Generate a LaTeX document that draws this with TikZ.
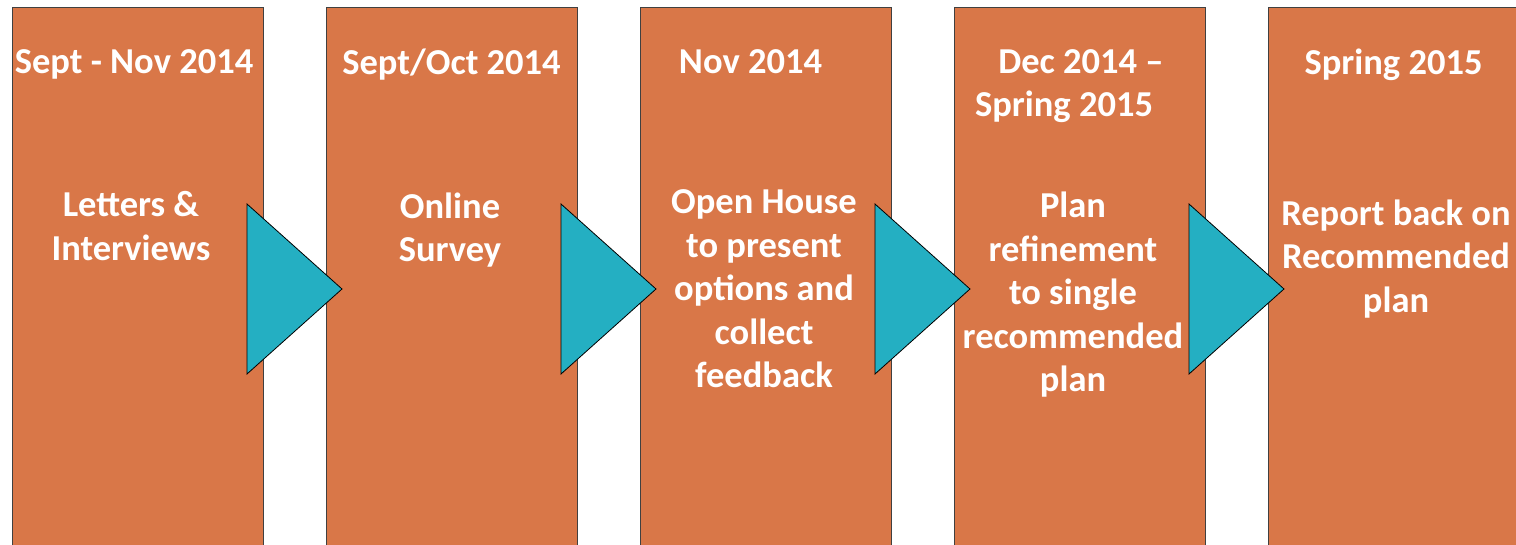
\documentclass[tikz,border=0pt]{standalone}
\usepackage{fontspec}
\setmainfont{Carlito}
\usetikzlibrary{positioning,calc}
\definecolor{stageorange}{RGB}{217,119,72}
\definecolor{pointerteal}{RGB}{36,175,194}
\tikzstyle{stage} = [draw=black!75, line width=1pt, fill=stageorange, rectangle, minimum width=251pt, minimum height=560pt, inner sep=0pt, outer sep=0pt]
\tikzstyle{datetxt} = [text=white, font=\fontsize{36.5}{43.5}\selectfont\bfseries, align=center, inner sep=0pt]
\tikzstyle{bodytxt} = [datetxt]
\tikzstyle{pointer} = [draw=black, line width=0.8pt, fill=pointerteal]

\begin{document}
\begin{tikzpicture}[x=1pt, y=1pt]
    \path[use as bounding box, clip] (0,0) rectangle (1516,544);
    \node[stage, anchor=north west] (s1) at (12,536) {};
    \node[stage, right=63pt of s1] (s2) {};
    \node[stage, right=63pt of s2] (s3) {};
    \node[stage, right=63pt of s3] (s4) {};
    \node[stage, right=63pt of s4] (s5) {};
    % pointers between the stages
    \foreach \i in {1,2,3,4}
        \draw[pointer] ($(s\i.north east)+(-16,-196)$) -- ++(95,-85) -- ++(-95,-85) -- cycle;
    % dates
    \node[datetxt, below=41pt of s1.north, xshift=-3.5pt] (d1) {Sept - Nov 2014};
    \node[datetxt, below=41pt of s2.north] (d2) {Sept/Oct 2014};
    \node[datetxt, below=41pt of s3.north, xshift=-15pt] (d3) {Nov 2014};
    \node[datetxt, below=41pt of s4.north, xshift=-15.5pt] (d4) {\hspace*{34pt}Dec 2014 –\\Spring 2015};
    \node[datetxt, below=41pt of s5.north] (d5) {Spring 2015};
    % steps
    \node[bodytxt] (b1) at ($(s1.north)+(-6.5,-218)$) {Letters \&\\Interviews};
    \node[bodytxt] (b2) at ($(s2.north)+(-1.5,-222)$) {Online\\Survey};
    \node[bodytxt] (b3) at ($(s3.north)+(-1.5,-281)$) {Open House\\to present\\options and\\collect\\feedback};
    \node[bodytxt] (b4) at ($(s4.north)+(-6.5,-287)$) {Plan\\refinement\\to single\\recommended\\plan};
    \node[bodytxt] (b5) at ($(s5.north)+(2.5,-251)$) {Report back on\\Recommended\\plan};
\end{tikzpicture}
\end{document}
